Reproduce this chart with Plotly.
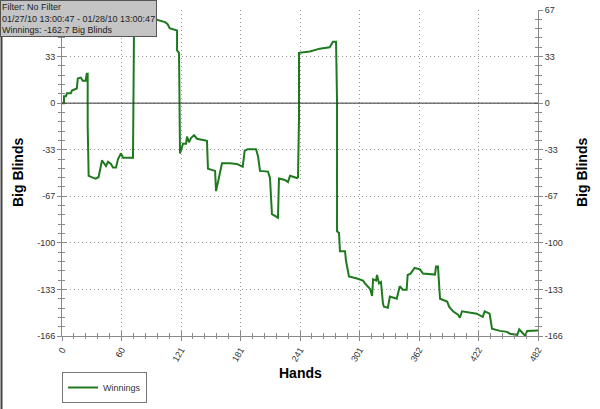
import plotly.graph_objects as go

# Hands (x) and cumulative winnings in big blinds (y)
hands = [0, 2, 2, 4, 5, 9, 10, 13, 15, 16, 19, 21, 24, 25, 26, 26, 27, 30, 34, 37,
         40.5, 42.5, 44.5, 46.6, 49.6, 51.6, 54.7, 56.7, 59.7, 61.8, 71.9, 72.9, 74, 90, 104.3,
         107, 109, 116.5, 116.5, 118.5, 119.5, 122.5, 125.6, 126.6, 128.6, 130.6, 133.7,
         136.7, 139.7, 146.8, 147.8, 155, 156, 158, 162, 170, 177, 183, 185, 188, 196.5,
         198.5, 200.5, 208.6, 210.6, 212.6, 216.7, 218.7, 219.7, 225.8, 228.8, 230.9, 238,
         239, 240, 240, 251, 261, 271, 274.4, 277.5, 278.5, 278.5, 280.5, 281.5, 286.6,
         287.6, 290.6, 298.7, 304.8, 306.8, 312, 314, 315, 318, 319, 321, 323, 325, 326,
         330, 332, 339, 342, 345, 349, 350, 353, 357, 362.5, 365.5, 377.7, 378.7, 380.7,
         382.8, 390, 392, 396, 401, 403, 405, 412, 420, 426, 428, 433, 435.4, 443.5, 450.6,
         453.6, 461, 463, 466, 469, 471, 482]
winnings = [0, 0, 5, 5, 7, 7, 9, 10, 10.5, 17.6, 18.3, 16, 16, 21, 21, -16, -52, -53, -54, -53,
            -41, -43, -45, -42, -43.5, -46, -46, -40, -36, -39, -39, 52, 59, 61, 58,
            56.5, 53.6, 52, 37.8, 36, -36, -29, -29, -24, -28, -25, -23,
            -25.5, -26, -27, -47, -48.5, -63, -56, -43, -43, -43.5, -45.5, -34, -33, -33,
            -38, -48.5, -49, -53.6, -79.5, -81.6, -82, -54, -55, -56.5, -52, -53.6,
            -53, -10, 36, 37, 39, 40, 44, 44, 2, -91.7, -93, -106, -106,
            -113, -124, -125.5, -127, -129, -133, -138, -126, -127, -123, -129, -128, -143.5, -145.7,
            -146.4, -138.5, -140, -131, -133.5, -133.5, -123, -122, -118, -119, -122, -122.7, -117, -117,
            -140, -142, -145.7, -149, -151.4, -153.6, -149, -150, -150.7, -153, -149, -150.7, -161.5, -163, -163.7,
            -165, -165.8, -162, -164, -166.5, -163, -162.7]

x_tickvals = [0, 60.25, 120.5, 180.75, 241, 301.25, 361.5, 421.75, 482]
x_ticktext = ["0", "60", "121", "181", "241", "301", "362", "422", "482"]
y_tickvals = [66.667, 33.333, 0, -33.333, -66.667, -100, -133.333, -166.667]
y_ticktext = ["67", "33", "0", "-33", "-67", "-100", "-133", "-166"]

X_RANGE = [0, 482]
Y_RANGE = [-166.667, 66.667]
GREEN = "#1f7a1f"
AXC = "#8a8a8a"
GRID = "#9a9a9a"
FONT = "Liberation Sans, Arial, sans-serif"

W, H = 600, 409
ML, MR, MT, MB = 62, 62, 10, 73
PW, PH = W - ML - MR, H - MT - MB


def px_x(px):
    return (px - ML) / PW


def px_y(py):
    return (H - MB - py) / PH


fig = go.Figure()
fig.add_trace(go.Scatter(x=hands, y=winnings, mode="lines", name="Winnings",
                         line=dict(color=GREEN, width=2), xaxis="x", yaxis="y"))
# invisible helpers so the overlay axes draw
for xa, ya in [("x2", "y2"), ("x", "y3"), ("x", "y4")]:
    fig.add_trace(go.Scatter(x=hands, y=winnings, mode="lines", showlegend=False,
                             hoverinfo="skip", opacity=0, line=dict(width=0),
                             xaxis=xa, yaxis=ya))

tickfont = dict(family=FONT, size=9, color="#333333")
titlefont = dict(family=FONT, size=14, color="#000000")

common_y = dict(range=Y_RANGE, tickmode="array", tickvals=y_tickvals, ticktext=y_ticktext,
                showline=True, linecolor=AXC, linewidth=1, tickcolor=AXC, ticklen=4,
                tickfont=tickfont, zeroline=False, automargin=False)


def yminor(side):
    return dict(tickmode="linear", tick0=0, dtick=33.333 / 5, ticklen=3,
                ticks=side, tickcolor=AXC, showgrid=False)


fig.update_layout(
    width=W, height=H,
    margin=dict(l=ML, r=MR, t=MT, b=MB, autoexpand=False),
    paper_bgcolor="white", plot_bgcolor="white",
    font=dict(family=FONT),
    xaxis=dict(range=X_RANGE, tickmode="array", tickvals=x_tickvals, ticktext=x_ticktext,
               tickangle=-60, ticks="outside", ticklen=4, tickcolor=AXC,
               showline=True, linecolor=AXC, linewidth=1, tickfont=tickfont,
               showgrid=True, gridcolor=GRID, griddash="1px,3px", gridwidth=1,
               zeroline=False, automargin=False,
               minor=dict(tickmode="linear", tick0=0, dtick=12.05, ticks="outside",
                          ticklen=2, tickcolor=AXC, showgrid=False)),
    xaxis2=dict(range=X_RANGE, overlaying="x", side="bottom", anchor="y",
                tickmode="array", tickvals=x_tickvals, ticks="inside", ticklen=5,
                tickcolor=AXC, showticklabels=False, showgrid=False, zeroline=False,
                showline=False, automargin=False,
                minor=dict(tickmode="linear", tick0=0, dtick=12.05, ticks="inside",
                           ticklen=3, tickcolor=AXC, showgrid=False)),
    yaxis=dict(**common_y, side="left", ticks="outside", minor=yminor("outside"),
               showgrid=True, gridcolor=GRID, griddash="1px,3px", gridwidth=1),
    yaxis2=dict(**common_y, side="right", overlaying="y", anchor="x", ticks="outside",
                minor=yminor("outside"), showgrid=False),
    yaxis3=dict(**common_y, side="left", overlaying="y", anchor="x", ticks="inside",
                showticklabels=False, showgrid=False, minor=yminor("inside")),
    yaxis4=dict(**common_y, side="right", overlaying="y", anchor="x", ticks="inside",
                showticklabels=False, showgrid=False, minor=yminor("inside")),
    showlegend=True,
    legend=dict(x=0, y=px_y(403), xanchor="left", yanchor="bottom",
                bordercolor="#777777", borderwidth=1, bgcolor="white",
                font=dict(family=FONT, size=9, color="#333333"),
                itemwidth=30, tracegroupgap=0),
)

# axis titles
fig.add_annotation(xref="paper", yref="paper", x=0.5, y=px_y(373), showarrow=False,
                   text="<b>Hands</b>", font=titlefont, xanchor="center", yanchor="middle")
fig.add_annotation(xref="paper", yref="paper", x=px_x(18), y=0.5, showarrow=False,
                   text="<b>Big Blinds</b>", font=titlefont, textangle=-90,
                   xanchor="center", yanchor="middle")
fig.add_annotation(xref="paper", yref="paper", x=px_x(582), y=0.5, showarrow=False,
                   text="<b>Big Blinds</b>", font=titlefont, textangle=-90,
                   xanchor="center", yanchor="middle")

# zero line across the plot
fig.add_hline(y=0, line=dict(color="#333333", width=1))

# left edge of the outer frame
fig.add_shape(type="line", xref="paper", yref="paper",
              x0=px_x(1.5), x1=px_x(1.5), y0=px_y(409), y1=px_y(0),
              line=dict(color="#444444", width=2))

# info box top-left
fig.add_annotation(xref="paper", yref="paper", x=px_x(0), y=px_y(0),
                   xanchor="left", yanchor="top", align="left", showarrow=False,
                   text="Filter: No Filter<br>01/27/10 13:00:47 - 01/28/10 13:00:47<br>Winnings: -162.7 Big Blinds",
                   font=dict(family=FONT, size=9, color="#222222"),
                   bgcolor="#c4c4c4", bordercolor="#555555", borderwidth=1, borderpad=1)

fig.write_html("out.html", config={"displayModeBar": False},
               post_script="document.body.style.margin='0px';")
